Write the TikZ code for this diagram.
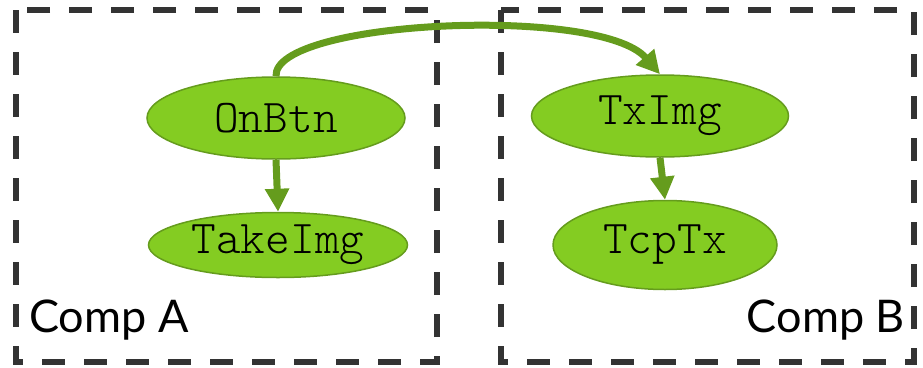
\documentclass[tikz,border=0pt]{standalone}
\usepackage{fontspec}
\usetikzlibrary{shapes.geometric,arrows.meta}
\newfontfamily\labelfont{Lato}
\newfontfamily\codefont{lmmonolt10-regular.otf}
\definecolor{leaf}{HTML}{84CC22}
\definecolor{stem}{HTML}{659C1D}
\definecolor{frame}{HTML}{333333}
\tikzset{
  compbox/.style={draw=frame, line width=5.5pt, dash pattern=on 23pt off 19pt},
  task/.style={ellipse, draw=stem, line width=1.5pt, fill=leaf, inner sep=0pt,
    font=\codefont\fontsize{47}{47}\selectfont},
  flow/.style={draw=stem, line width=7pt, -{Triangle[length=23pt,width=23pt]}},
  complabel/.style={font=\labelfont\fontsize{45}{45}\selectfont, inner sep=0pt}
}
\begin{document}
\begin{tikzpicture}[x=1pt,y=-1pt]
  \useasboundingbox (0,0) rectangle (923,367);
  % component frames
  \draw[compbox] (16,10) rectangle (437,362);
  \draw[compbox] (501,10) rectangle (914,362);
  % tasks
  \node[task, minimum width=258pt, minimum height=82pt] (onbtn) at (276,118) {OnBtn};
  \node[task, minimum width=259pt, minimum height=65pt] (takeimg) at (278,245) {TakeImg};
  \node[task, minimum width=257pt, minimum height=82pt] (tximg) at (660,116) {TxImg};
  \node[task, minimum width=224pt, minimum height=89pt] (tcptx) at (665,245) {TcpTx};
  % connectors
  \draw[flow] (onbtn.south) -- (takeimg.north);
  \draw[flow] (tximg.south) -- (tcptx.north);
  \draw[flow] (onbtn.north) .. controls (273,20) and (600,5) .. (tximg.north);
  % component names
  \node[complabel, anchor=base west] (compa) at (29,332) {Comp A};
  \node[complabel, anchor=base east] (compb) at (905,332) {Comp B};
\end{tikzpicture}
\end{document}
